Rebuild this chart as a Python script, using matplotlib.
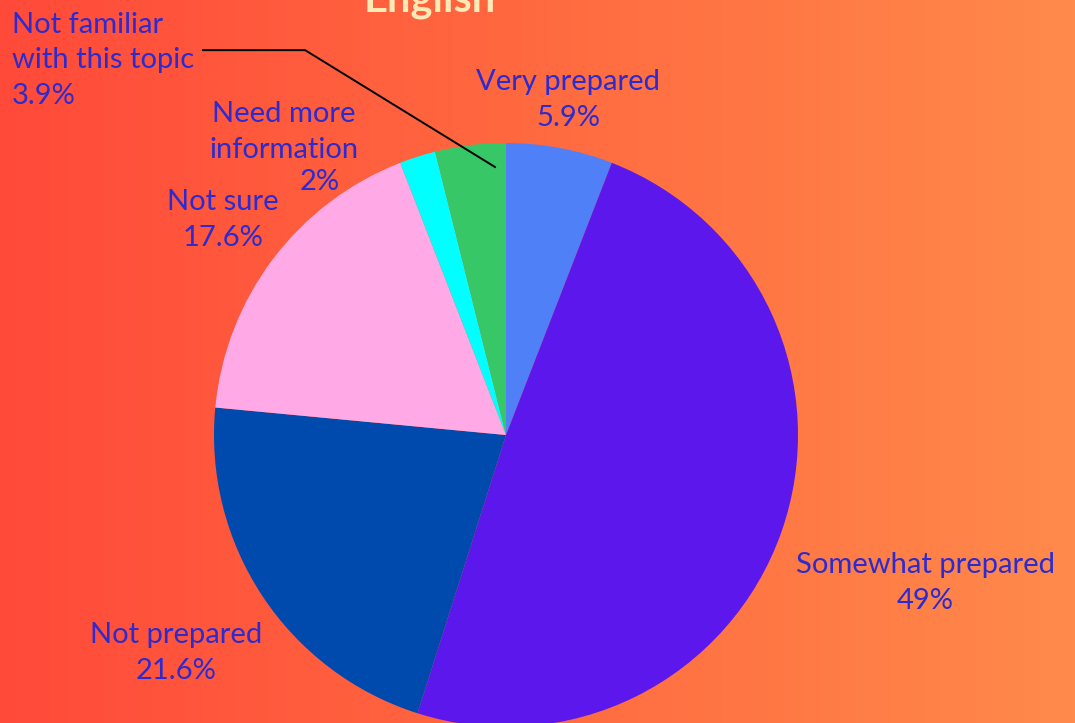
import numpy as np
import matplotlib.pyplot as plt
from matplotlib.colors import LinearSegmentedColormap

plt.rcParams['font.family'] = ['Lato', 'DejaVu Sans']

# data
labels = ["Very prepared", "Somewhat prepared", "Not prepared", "Not sure",
          "Need more\ninformation", "Not familiar\nwith this topic"]
values = [5.9, 49, 21.6, 17.6, 2, 3.9]
pct_text = ["5.9%", "49%", "21.6%", "17.6%", "2%", "3.9%"]
colors = ["#4F80F7", "#5C18EC", "#004AAD", "#FFAAE6", "#00FFFF", "#37C766"]
txt_col = "#2B2BCF"

fig = plt.figure(figsize=(10.75, 7.23), dpi=100)

# gradient background
bg = fig.add_axes([0, 0, 1, 1])
cmap = LinearSegmentedColormap.from_list("bg", ["#FF4A3A", "#FF6A40", "#FF8A4B"])
bg.imshow(np.linspace(0, 1, 256)[None, :], aspect="auto", cmap=cmap,
          extent=[0, 1, 0, 1])
bg.set_xlim(0, 1)
bg.set_ylim(0, 1)
bg.axis("off")

fig.text(0.40, 0.984, "English", color="#FFE9B5", fontsize=30, fontweight="bold",
         ha="center", va="baseline")

# pie axes: center ~ (506, 435) px, radius ~ 292 px
W, H = 1075, 723
cx, cy, r = 506, 435, 292
ax = fig.add_axes([(cx - r) / W, (H - cy - r) / H, 2 * r / W, 2 * r / H])
ax.pie(values, colors=colors, startangle=90, counterclock=False, radius=1,
       wedgeprops=dict(linewidth=0))
ax.set_xlim(-1, 1)
ax.set_ylim(-1, 1)
ax.set_aspect("equal")
ax.axis("off")

fs = 21
ls = 1.45
kw = dict(color=txt_col, fontsize=fs, linespacing=ls, clip_on=False, va="center")
ax.text(0.212, 1.147, labels[0] + "\n" + pct_text[0], ha="center", **kw)
ax.text(1.435, -0.507, labels[1] + "\n" + pct_text[1], ha="center", **kw)
ax.text(-1.13, -0.747, labels[2] + "\n" + pct_text[2], ha="center", **kw)
ax.text(-0.969, 0.736, labels[3] + "\n" + pct_text[3], ha="center", **kw)
ax.text(-0.760, 1.038, labels[4], ha="center", **kw)
ax.text(-0.637, 0.866, pct_text[4], ha="center", **kw)

# leader for the smallest slice
ax.text(-1.692, 1.284, labels[5] + "\n" + pct_text[5], ha="left", **kw)
ax.plot([-1.038, -0.688, -0.038], [1.318, 1.318, 0.918], color="black",
        lw=1.4, clip_on=False)

fig.savefig("out.png", dpi=100)
